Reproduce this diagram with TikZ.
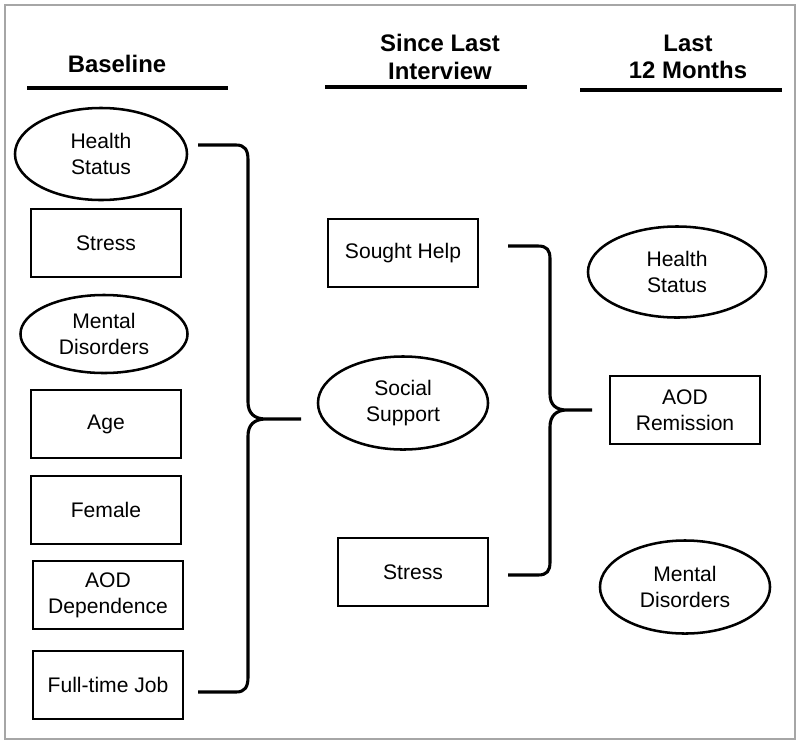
\documentclass[tikz,border=0pt]{standalone}
\usepackage{fontspec}
\setmainfont{Liberation Sans}
\usetikzlibrary{shapes.geometric}

\begin{document}
\begin{tikzpicture}[x=0.025cm, y=-0.025cm, line width=1.8pt,
        every node/.style={font=\fontsize{15}{18.5}\selectfont, align=center},
        box/.style={draw, rectangle, minimum width=3.75cm, minimum height=1.7cm, inner sep=2pt},
        oval/.style={draw, ellipse, inner sep=0pt},
        head/.style={font=\fontsize{17}{19.5}\selectfont\bfseries},
        brace/.style={line width=2.2pt, line join=round}]
        \useasboundingbox (0,0) rectangle (800,744);
        \draw[gray!70, line width=0.8pt] (5,5) rectangle (795,739);

        % Headers
        \node (Base) [head] at (117,64) {Baseline};
        \node (Since) [head] at (440,57) {Since Last\\Interview};
        \node (Last) [head] at (688,57) {Last\\12 Months};
        \draw[line width=2.2pt] (27,88) -- (228,88);
        \draw[line width=2.2pt] (325,87) -- (527,87);
        \draw[line width=2.2pt] (580,90) -- (782,90);

        % Baseline column
        \node (HealthBase) [oval, minimum width=4.3cm, minimum height=2.3cm] at (101,154) {Health\\Status};
        \node (StressBase) [box] at (106,243) {Stress};
        \node (MentalBase) [oval, minimum width=4.175cm, minimum height=1.95cm] at (104,334) {Mental\\Disorders};
        \node (Age) [box] at (106,424) {Age};
        \node (Female) [box] at (106,510) {Female};
        \node (AODDep) [box] at (108,595) {AOD\\Dependence};
        \node (Job) [box] at (108,685) {Full-time Job};

        % Since last interview column
        \node (Help) [box] at (403,253) {Sought Help};
        \node (Support) [oval, minimum width=4.25cm, minimum height=2.325cm] at (403,403) {Social\\Support};
        \node (StressSince) [box] at (413,572) {Stress};

        % Last 12 months column
        \node (HealthLast) [oval, minimum width=4.45cm, minimum height=2.275cm] at (677,272) {Health\\Status};
        \node (Remission) [box] at (685,410) {AOD\\Remission};
        \node (MentalLast) [oval, minimum width=4.25cm, minimum height=2.325cm] at (685,587) {Mental\\Disorders};

        % Braces
        \coordinate (LTop) at (198,145);
        \coordinate (LBot) at (198,692);
        \coordinate (LTip) at (301,419);
        \draw[brace] (LTop) -- (236,145) .. controls (245,145) and (248,150) .. (248,160)
            -- (248,402) .. controls (248,413) and (254,419) .. (266,419) -- (LTip)
            (266,419) .. controls (254,419) and (248,425) .. (248,436)
            -- (248,677) .. controls (248,687) and (245,692) .. (236,692) -- (LBot);

        \coordinate (RTop) at (508,246);
        \coordinate (RBot) at (508,575);
        \coordinate (RTip) at (592,410);
        \draw[brace] (RTop) -- (538,246) .. controls (547,246) and (550,250) .. (550,259)
            -- (550,394) .. controls (550,405) and (556,410) .. (567,410) -- (RTip)
            (567,410) .. controls (556,410) and (550,416) .. (550,427)
            -- (550,562) .. controls (550,571) and (547,575) .. (538,575) -- (RBot);
    \end{tikzpicture}
\end{document}
